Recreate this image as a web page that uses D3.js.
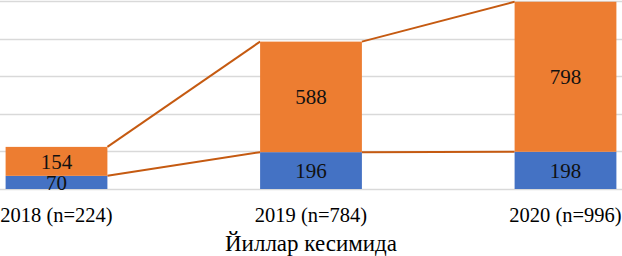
<!DOCTYPE html>
<html><head><meta charset="utf-8">
<script src="https://cdn.jsdelivr.net/npm/d3@7"></script>
<style>body{margin:0;background:#fff}svg{display:block}</style>
</head><body>
<svg id="c" width="622" height="256"></svg>
<script>
const categories = ["2018 (n=224)", "2019 (n=784)", "2020 (n=996)"];
const seriesBottom = [70, 196, 198];
const seriesTop = [154, 588, 798];
const yTicks = [0, 200, 400, 600, 800, 1000];
const axisTitle = "Йиллар кесимида";

const FONT = '"Liberation Serif"';
const svg = d3.select("#c");
const x = d3.scaleBand().domain(categories).range([-70.75, 692.75]).paddingInner(0.6).paddingOuter(0.3);
const y = d3.scaleLinear().domain([0, 1000]).range([189, 1]);

const data = categories.map((c, i) => ({c, b: seriesBottom[i], t: seriesTop[i]}));

// gridlines
svg.append("g").selectAll("line").data(yTicks).join("line")
  .attr("x1", 0).attr("x2", 622)
  .attr("y1", d => Math.round(y(d)) + 0.5).attr("y2", d => Math.round(y(d)) + 0.5)
  .attr("stroke", "#d9d9d9").attr("stroke-width", 1.3);

// series lines
const lineColor = "#c55a11";
for (let i = 0; i < data.length - 1; i++) {
  const a = data[i], b = data[i + 1];
  svg.append("line")
    .attr("x1", x(a.c) + x.bandwidth()).attr("y1", y(a.b))
    .attr("x2", x(b.c)).attr("y2", y(b.b))
    .attr("stroke", lineColor).attr("stroke-width", 2);
  svg.append("line")
    .attr("x1", x(a.c) + x.bandwidth()).attr("y1", y(a.b + a.t))
    .attr("x2", x(b.c)).attr("y2", y(b.b + b.t))
    .attr("stroke", lineColor).attr("stroke-width", 2);
}

// bars
svg.append("g").selectAll("rect").data(data).join("rect")
  .attr("x", d => x(d.c)).attr("width", x.bandwidth())
  .attr("y", d => y(d.b)).attr("height", d => y(0) - y(d.b))
  .attr("fill", "#4472c4");
svg.append("g").selectAll("rect").data(data).join("rect")
  .attr("x", d => x(d.c)).attr("width", x.bandwidth())
  .attr("y", d => y(d.b + d.t)).attr("height", d => y(d.b) - y(d.b + d.t))
  .attr("fill", "#ed7d31");

// value labels
svg.append("g").selectAll("text").data(data).join("text")
  .attr("x", d => x(d.c) + x.bandwidth() / 2)
  .attr("y", d => (y(0) + y(d.b)) / 2)
  .attr("dy", "0.36em").attr("text-anchor", "middle")
  .style("font-family", FONT).style("font-size", "21px").attr("fill", "#111")
  .text(d => d.b);
svg.append("g").selectAll("text").data(data).join("text")
  .attr("x", d => x(d.c) + x.bandwidth() / 2)
  .attr("y", d => (y(d.b) + y(d.b + d.t)) / 2)
  .attr("dy", "0.36em").attr("text-anchor", "middle")
  .style("font-family", FONT).style("font-size", "21px").attr("fill", "#111")
  .text(d => d.t);

// x axis
const xAxis = svg.append("g").attr("transform", "translate(0,189)")
  .call(d3.axisBottom(x).tickSize(0).tickPadding(0));
xAxis.select(".domain").remove();
xAxis.selectAll("text").attr("dy", null).attr("y", 33)
  .style("font-family", FONT).style("font-size", "20.5px").attr("fill", "#000");

svg.append("text").attr("x", x(categories[1]) + x.bandwidth() / 2).attr("y", 251)
  .attr("text-anchor", "middle").style("font-family", FONT).style("font-size", "23px").attr("fill", "#000")
  .text(axisTitle);
</script>
</body></html>
